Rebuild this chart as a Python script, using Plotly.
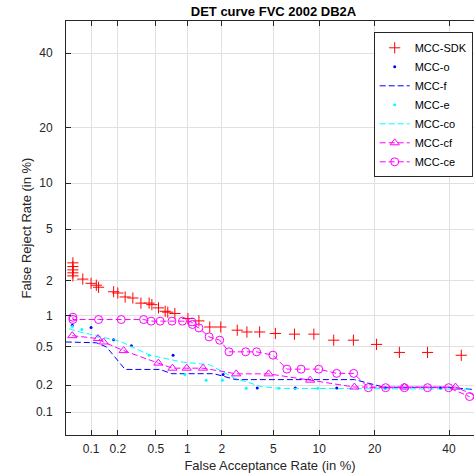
import plotly.graph_objects as go
from statistics import NormalDist

_nd = NormalDist()


def probit(vals):
    return [_nd.inv_cdf(v / 100.0) for v in vals]


# ---------------- data (percent) ----------------
tick_vals = [0.1, 0.2, 0.5, 1, 2, 5, 10, 20, 40]
tick_text = ["0.1", "0.2", "0.5", "1", "2", "5", "10", "20", "40"]

sdk_far = [0.061, 0.061, 0.061, 0.061, 0.061, 0.08, 0.1, 0.115, 0.122, 0.18, 0.2, 0.24,
           0.29, 0.352, 0.427, 0.455, 0.53, 0.616, 0.653, 0.763, 1.01, 1.27, 1.58, 1.96,
           2.67, 3.18, 3.97, 5.16, 6.97, 9.27, 12.16, 15.6, 20.4, 25.9, 33.6, 43.8]
sdk_frr = [2.8, 2.62, 2.46, 2.33, 2.2, 2.07, 1.91, 1.84, 1.77, 1.62, 1.58, 1.46,
           1.43, 1.29, 1.29, 1.25, 1.17, 1.09, 1.07, 1.04, 0.936, 0.89, 0.78, 0.78,
           0.728, 0.70, 0.70, 0.677, 0.667, 0.667, 0.583, 0.583, 0.53, 0.441, 0.441, 0.413]

o_far = [0.06, 0.1, 0.18, 0.28, 0.734, 2.05, 3.81, 7.05, 12.65, 22.4, 37.4]
o_frr = [0.81, 0.77, 0.59, 0.514, 0.413, 0.261, 0.186, 0.186, 0.186, 0.186, 0.186]

f_far = [0.05, 0.115, 0.15, 0.225, 0.24, 0.547, 0.714, 1.71, 2.6, 15.8, 22.2, 40.0, 48.0]
f_frr = [0.56, 0.55, 0.5, 0.312, 0.295, 0.295, 0.266, 0.266, 0.23, 0.23, 0.19, 0.19, 0.179]

e_far = [0.06, 0.078, 0.12, 0.427, 0.946, 1.47, 2.02, 3.14, 5.46, 9.79]
e_frr = [0.79, 0.738, 0.637, 0.413, 0.261, 0.227, 0.227, 0.185, 0.185, 0.185]

co_far = [0.055, 0.074, 0.211, 0.435, 0.906, 1.58, 2.55, 4.1, 5.46, 47.5]
co_frr = [0.75, 0.70, 0.57, 0.413, 0.351, 0.33, 0.238, 0.193, 0.185, 0.181]

cf_far = [0.06, 0.12, 0.139, 0.231, 0.528, 0.724, 0.985, 1.38, 2.62, 4.62, 8.79, 15.8,
          27.2, 42.0, 49.0]
cf_frr = [0.645, 0.605, 0.56, 0.46, 0.343, 0.304, 0.304, 0.304, 0.265, 0.265, 0.227, 0.191,
          0.191, 0.191, 0.15]

ce_far = [0.061, 0.061, 0.122, 0.218, 0.375, 0.447, 0.55, 0.716, 0.9, 1.1, 1.11, 1.27, 1.56,
          1.92, 2.29, 3.11, 3.77, 4.96, 6.2, 7.7, 9.93, 12.65, 15.65, 18.6, 22.5, 27.2, 33.6,
          39.9, 46.4]
ce_frr = [0.962, 0.916, 0.916, 0.916, 0.916, 0.885, 0.885, 0.885, 0.885, 0.87, 0.824, 0.765,
          0.628, 0.583, 0.447, 0.447, 0.447, 0.414, 0.297, 0.297, 0.297, 0.268, 0.268, 0.188,
          0.188, 0.188, 0.188, 0.188, 0.15]

x_range_pct = [0.0503, 47.8]
y_range_pct = [0.0535, 50.0]

# ---------------- figure ----------------
FONT = "Liberation Sans, Arial, Helvetica, sans-serif"
AX = "#262626"
DASH = "6px,3px"

fig = go.Figure()

fig.add_trace(go.Scatter(
    x=probit(sdk_far), y=probit(sdk_frr), mode="markers", name="MCC-SDK",
    marker=dict(symbol="cross-thin", size=8, color="#ff0000",
                line=dict(color="#ff0000", width=1))))
fig.add_trace(go.Scatter(
    x=probit(o_far), y=probit(o_frr), mode="markers", name="MCC-o",
    marker=dict(symbol="circle", size=3, color="#0000ff")))
fig.add_trace(go.Scatter(
    x=probit(f_far), y=probit(f_frr), mode="lines", name="MCC-f",
    line=dict(color="#0000ff", width=1, dash=DASH)))
fig.add_trace(go.Scatter(
    x=probit(e_far), y=probit(e_frr), mode="markers", name="MCC-e",
    marker=dict(symbol="circle", size=3, color="#00ffff")))
fig.add_trace(go.Scatter(
    x=probit(co_far), y=probit(co_frr), mode="lines", name="MCC-co",
    line=dict(color="#00ffff", width=1, dash=DASH)))
fig.add_trace(go.Scatter(
    x=probit(cf_far), y=probit(cf_frr), mode="lines+markers", name="MCC-cf",
    line=dict(color="#ff00ff", width=1, dash=DASH),
    marker=dict(symbol="triangle-up-open", size=8, color="#ff00ff",
                line=dict(color="#ff00ff", width=1))))
fig.add_trace(go.Scatter(
    x=probit(ce_far), y=probit(ce_frr), mode="lines+markers", name="MCC-ce",
    line=dict(color="#ff00ff", width=1, dash=DASH),
    marker=dict(symbol="circle-open", size=8, color="#ff00ff",
                line=dict(color="#ff00ff", width=1))))

axis_common = dict(
    tickvals=probit(tick_vals), ticktext=tick_text,
    showgrid=True, gridcolor="#e0e0e0", gridwidth=1,
    zeroline=False, showline=True, linecolor=AX, linewidth=1,
    ticks="inside", ticklen=5, tickcolor=AX, tickwidth=1,
    tickfont=dict(family=FONT, size=12, color=AX),
    automargin=False,
)

fig.update_layout(
    width=474, height=476,
    margin=dict(l=66, r=0, t=21, b=41),
    paper_bgcolor="white", plot_bgcolor="white",
    title=dict(text="<b>DET curve FVC 2002 DB2A</b>",
               font=dict(family=FONT, size=13, color="#000000"),
               x=0.5086, xref="paper", xanchor="center",
               y=1 - 11.5 / 476, yref="container", yanchor="middle"),
    xaxis=dict(range=probit(x_range_pct), mirror="ticks", ticklabelstandoff=3,
               title=dict(text="False Acceptance Rate (in %)",
                          font=dict(family=FONT, size=13, color=AX), standoff=5),
               **axis_common),
    yaxis=dict(range=probit(y_range_pct), mirror=False, ticklabelstandoff=10,
               title=dict(text="False Reject Rate (in %)",
                          font=dict(family=FONT, size=13, color=AX), standoff=1),
               **axis_common),
    legend=dict(x=0.9968, xanchor="right", y=0.9727, yanchor="top",
                bgcolor="white", bordercolor=AX, borderwidth=1,
                font=dict(family=FONT, size=11, color="#000000"),
                itemwidth=30, tracegroupgap=0),
    showlegend=True,
)

fig.write_html("out.html", config={"displayModeBar": False},
               post_script="document.body.style.margin='0px';")
